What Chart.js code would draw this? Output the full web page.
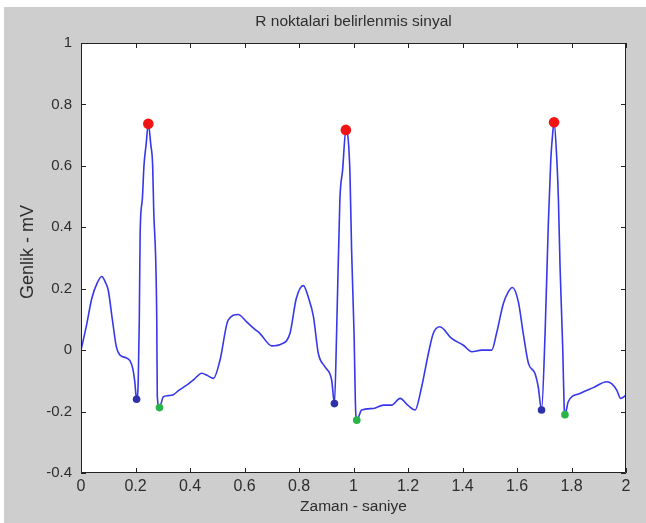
<!DOCTYPE html>
<html><head><meta charset="utf-8">
<script src="https://cdn.jsdelivr.net/npm/chart.js@4"></script>
<style>html,body{margin:0;padding:0;background:#fff}#wrap{width:646px;height:523px}</style>
</head><body><div id="wrap"><canvas id="c" width="646" height="523"></canvas></div>
<script>
const titleText = "R noktalari belirlenmis sinyal";
const xTitle = "Zaman - saniye";
const yTitle = "Genlik - mV";
const xTicks = [0,0.2,0.4,0.6,0.8,1,1.2,1.4,1.6,1.8,2];
const yTicks = [-0.4,-0.2,0,0.2,0.4,0.6,0.8,1];

const timeS = [0,0.02,0.04,0.06,0.076,0.09,0.1,0.115,0.13,0.143,0.165,0.18,0.19,0.197,0.204,0.21,0.214,0.217,0.225,0.231,0.239,0.247,0.256,0.263,0.267,0.274,0.278,0.28,0.288,0.302,0.32,0.339,0.36,0.388,0.415,0.443,0.465,0.486,0.51,0.54,0.577,0.608,0.635,0.657,0.7,0.736,0.767,0.79,0.816,0.835,0.853,0.871,0.895,0.92,0.93,0.938,0.95,0.96,0.972,0.987,0.993,1.002,1.008,1.012,1.03,1.073,1.11,1.14,1.171,1.2,1.226,1.25,1.275,1.293,1.317,1.36,1.403,1.434,1.47,1.507,1.525,1.55,1.568,1.583,1.605,1.623,1.642,1.666,1.678,1.69,1.703,1.715,1.724,1.731,1.736,1.745,1.752,1.758,1.768,1.773,1.776,1.788,1.831,1.88,1.929,1.947,1.966,1.98,2.0];
const ampMV = [0,0.08,0.17,0.22,0.24,0.22,0.195,0.1,0.01,-0.016,-0.025,-0.035,-0.06,-0.1,-0.16,-0.1,0.1,0.38,0.49,0.6,0.67,0.737,0.67,0.6,0.45,0.3,0.1,-0.15,-0.187,-0.152,-0.148,-0.145,-0.13,-0.114,-0.095,-0.075,-0.083,-0.092,-0.033,0.098,0.116,0.092,0.07,0.054,0.014,0.02,0.055,0.168,0.21,0.17,0.109,-0.011,-0.054,-0.098,-0.174,0.055,0.49,0.586,0.717,0.576,0.326,0.055,-0.2,-0.228,-0.195,-0.19,-0.179,-0.179,-0.157,-0.18,-0.195,-0.12,-0.01,0.055,0.076,0.038,0.016,-0.005,0,0,0.055,0.152,0.19,0.204,0.157,0.054,-0.043,-0.076,-0.12,-0.195,0.054,0.413,0.619,0.706,0.742,0.64,0.489,0.271,0,-0.185,-0.21,-0.168,-0.141,-0.122,-0.103,-0.109,-0.13,-0.157,-0.147];

const rX = [0.247,0.972,1.736];
const rY = [0.737,0.717,0.742];
const qX = [0.204,0.93,1.69];
const qY = [-0.16,-0.174,-0.195];
const sX = [0.288,1.012,1.776];
const sY = [-0.187,-0.228,-0.21];

const pts = (xs, ys) => xs.map((x,i)=>({x:x, y:ys[i]}));
const FONT = '"Liberation Sans", Arial, sans-serif';
const TXT = '#2e2e2e';

const bgPlugin = {
  id:'bg',
  beforeDraw(chart){
    const ctx = chart.ctx, a = chart.chartArea;
    ctx.save();
    ctx.fillStyle = '#ffffff';
    ctx.fillRect(0,0,chart.width,chart.height);
    ctx.fillStyle = '#cecece';
    ctx.fillRect(4,7,chart.width-4,chart.height-7);
    ctx.fillStyle = '#ffffff';
    ctx.fillRect(a.left,a.top,a.right-a.left,a.bottom-a.top);
    ctx.restore();
  },
  afterDraw(chart){
    const ctx = chart.ctx, a = chart.chartArea;
    const xs = chart.scales.x, ys = chart.scales.y;
    ctx.save();
    ctx.strokeStyle = '#222';
    ctx.lineWidth = 1;
    ctx.beginPath();
    ctx.rect(a.left+0.5,a.top+0.5,a.right-a.left-1,a.bottom-a.top-1);
    ctx.stroke();
    const L = 5;
    ctx.beginPath();
    xTicks.forEach(v=>{
      const p = Math.round(xs.getPixelForValue(v))+0.5;
      ctx.moveTo(p,a.bottom); ctx.lineTo(p,a.bottom-L);
      ctx.moveTo(p,a.top); ctx.lineTo(p,a.top+L);
    });
    yTicks.forEach(v=>{
      const p = Math.round(ys.getPixelForValue(v))+0.5;
      ctx.moveTo(a.left,p); ctx.lineTo(a.left+L,p);
      ctx.moveTo(a.right,p); ctx.lineTo(a.right-L,p);
    });
    ctx.stroke();
    ctx.fillStyle = TXT;
    ctx.textAlign = 'center';
    ctx.textBaseline = 'middle';
    ctx.font = '15.5px ' + FONT;
    ctx.fillText(titleText, (a.left+a.right)/2, 22);
    ctx.fillText(xTitle, (a.left+a.right)/2, 507);
    ctx.font = '18px ' + FONT;
    ctx.translate(28,252);
    ctx.rotate(-Math.PI/2);
    ctx.fillText(yTitle,0,0);
    ctx.restore();
  }
};

new Chart(document.getElementById('c'), {
  type:'scatter',
  data:{datasets:[
    {label:'signal', data:pts(timeS,ampMV), showLine:true, borderColor:'rgb(55,55,235)', borderWidth:1.6, pointRadius:0, cubicInterpolationMode:'monotone', order:3},
    {label:'R', data:pts(rX,rY), backgroundColor:'rgb(240,20,20)', borderColor:'rgb(240,20,20)', pointRadius:5.3, pointBorderWidth:0, order:1},
    {label:'Q', data:pts(qX,qY), backgroundColor:'rgb(45,50,170)', borderColor:'rgb(45,50,170)', pointRadius:3.8, pointBorderWidth:0, order:2},
    {label:'S', data:pts(sX,sY), backgroundColor:'rgb(40,180,70)', borderColor:'rgb(40,180,70)', pointRadius:3.8, pointBorderWidth:0, order:2}
  ]},
  options:{
    responsive:false, animation:false, devicePixelRatio:1,
    layout:{padding:{top:43,right:20,left:0,bottom:0}},
    plugins:{legend:{display:false}, tooltip:{enabled:false}, title:{display:false}},
    scales:{
      x:{type:'linear', min:0, max:2,
        afterBuildTicks(s){ s.ticks = xTicks.map(v=>({value:v})); },
        afterFit(s){ s.height = 50; },
        grid:{display:false, drawTicks:false}, border:{display:false},
        ticks:{padding:4, color:TXT, font:{family:FONT, size:16}, maxRotation:0, autoSkip:false,
          callback:v=>String(Number(v.toFixed(1)))}
      },
      y:{type:'linear', min:-0.4, max:1,
        afterBuildTicks(s){ s.ticks = yTicks.map(v=>({value:v})); },
        afterFit(s){ s.width = 81; },
        grid:{display:false, drawTicks:false}, border:{display:false},
        ticks:{padding:9, color:TXT, font:{family:FONT, size:15}, autoSkip:false,
          callback:v=>String(Number(v.toFixed(1)))}
      }
    }
  },
  plugins:[bgPlugin]
});
</script></body></html>
